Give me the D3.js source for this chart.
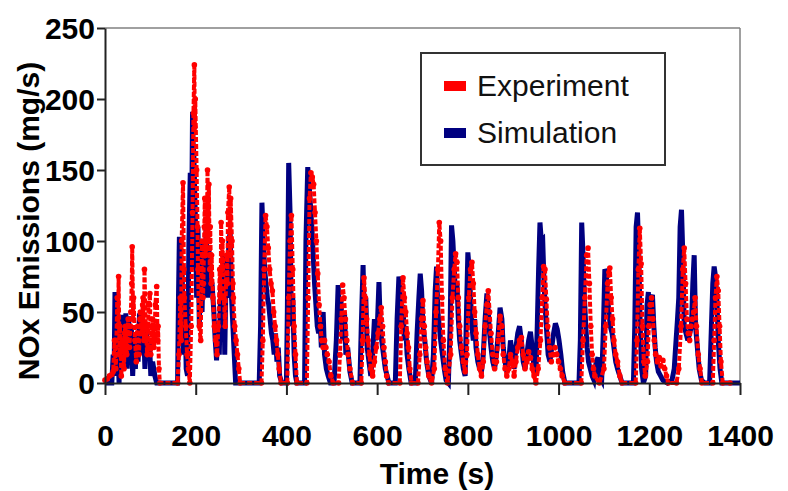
<!DOCTYPE html>
<html>
<head>
<meta charset="utf-8">
<script src="https://cdn.jsdelivr.net/npm/d3@7"></script>
<style>
  body { margin: 0; background: #fff; }
  svg { display: block; }
  .tick text { font-family: "Liberation Sans", Arial, sans-serif; font-weight: bold; font-size: 30px; fill: #000; }
</style>
</head>
<body>
<script>
// measured NOx emission traces, [time s, mg/s]
var experiment = [
  [0,2],[5,3],[10,5],[15,6],[18,8],[21,30],[24,10],[27,60],[29,40],[30,75],[32,20],[33,40],[36,5],[38,25],[39,30],[42,10],[43,35],[45,40],[48,20],
  [50,35],[51,45],[54,25],[56,40],[57,50],[59,70],[60,96],[62,45],[63,60],[66,30],[69,15],[71,35],[72,40],[75,20],[77,45],[78,50],[81,35],[83,55],[84,60],[86,30],[87,80],[90,40],
  [93,20],[95,40],[96,55],[99,63],[101,20],[102,30],[105,45],[107,35],[108,25],[110,40],[111,55],[114,68],[116,30],[117,40],[119,10],[121,0],[160,0],[163,20],
  [166,60],[168,30],[169,100],[172,141],[174,80],[175,60],[178,40],[181,20],[184,10],[187,0],[190,40],[193,120],[195,190],[197,224],[198,180],[199,200],
  [202,150],[204,110],[205,80],[208,40],[211,30],[213,80],[214,100],[216,60],[217,70],[219,110],[220,130],[222,90],[223,100],[225,120],[226,150],[228,100],[229,140],[231,80],[232,110],[234,70],[235,90],
  [238,60],[241,40],[244,30],[247,20],[250,40],[253,80],[255,60],[256,113],[258,80],[259,100],[262,60],[265,40],[268,90],[270,70],[271,120],
  [274,138],[276,90],[277,130],[280,100],[282,70],[283,60],[286,40],[289,30],[292,20],[295,10],[298,0],[345,0],[348,30],[351,80],
  [354,118],[357,110],[360,95],[363,80],[366,70],[369,65],[372,50],[375,40],[378,30],[381,20],[384,10],[388,0],
  [402,0],[405,60],[408,100],[411,118],[414,80],[417,40],[420,20],[423,0],[445,0],[448,60],[451,130],[454,148],
  [457,145],[460,140],[463,120],[466,100],[469,77],[472,55],[475,40],[478,30],[481,25],[484,30],[487,25],[490,20],
  [494,15],[498,5],[503,0],[515,0],[518,20],[521,45],[524,69],[527,60],[530,45],[533,30],[536,20],[540,10],[546,0],
  [565,0],[568,30],[571,74],[574,60],[577,45],[580,30],[583,20],[586,10],[590,5],[594,15],[598,25],[602,35],[606,45],
  [609,53],[612,40],[615,25],[618,15],[621,5],[625,0],[650,0],[653,40],[657,74],[660,60],[663,50],[666,35],[669,25],
  [672,10],[676,0],[690,0],[694,20],[698,45],[701,58],[704,40],[707,25],[710,15],[714,5],[720,0],[726,10],[730,50],
  [734,80],[737,113],[740,100],[743,60],[746,30],[750,10],[755,0],[762,20],[766,60],[770,80],[773,91],[776,85],
  [779,60],[782,40],[786,25],[790,15],[794,8],[798,20],[802,60],[806,80],[809,85],[812,70],[815,50],[818,35],
  [822,20],[826,10],[830,5],[834,15],[838,40],[842,55],[845,65],[848,50],[851,35],[855,20],[859,10],[863,15],
  [867,30],[871,47],[875,40],[878,20],[882,10],[886,5],[890,10],[894,20],[898,15],[902,5],[906,15],[910,25],
  [914,30],[918,32],[922,20],[926,10],[930,15],[934,22],[938,18],[942,10],[946,5],[950,0],[955,10],[960,30],
  [964,60],[967,82],[970,80],[973,59],[976,40],[980,25],[984,15],[988,20],[992,25],[996,20],[1000,15],[1004,10],
  [1008,5],[1014,0],[1050,0],[1054,30],[1058,60],[1062,90],[1065,95],[1068,70],[1071,40],[1074,20],[1077,10],
  [1080,5],[1090,0],[1100,10],[1104,40],[1108,70],[1111,78],[1113,81],[1116,60],[1119,45],[1122,30],[1126,20],
  [1130,15],[1135,5],[1140,0],[1170,0],[1173,30],[1176,80],[1179,109],[1182,84],[1185,40],[1188,15],[1191,5],
  [1196,15],[1199,40],[1202,55],[1205,60],[1208,45],[1211,30],[1214,20],[1218,15],[1222,18],[1226,12],[1230,16],
  [1234,10],[1238,5],[1242,0],[1260,0],[1265,10],[1270,40],[1274,80],[1277,95],[1280,70],[1283,45],[1286,35],
  [1289,30],[1292,40],[1295,45],[1298,50],[1301,60],[1304,40],[1308,20],[1312,10],[1316,0],[1340,0],[1343,30],
  [1346,60],[1349,75],[1352,65],[1355,40],[1358,15],[1362,0],[1378,0]
];

var simulation = [
  [0,0],[15,0],[18,20],[20,5],[22,64],[25,10],[28,30],[31,0],[34,45],[37,15],[40,48],[43,20],[46,49],[49,10],[52,47],
  [55,25],[58,40],[61,5],[64,30],[67,10],[70,35],[73,15],[76,48],[79,49],[82,20],[85,40],[88,10],[91,35],[95,20],
  [98,30],[101,5],[105,15],[110,5],[114,0],[160,0],[162,60],[164,103],[167,40],[170,80],[173,20],[176,60],[179,10],
  [182,5],[185,100],[188,148],[190,80],[192,150],[193,191],[194,170],[196,160],[199,120],[202,60],[205,110],[208,40],[211,90],[214,50],
  [217,100],[220,70],[223,110],[226,60],[229,95],[232,75],[236,70],[240,50],[243,30],[246,16],[249,40],[252,20],
  [255,70],[258,30],[261,90],[264,20],[267,80],[270,60],[273,100],[276,106],[279,60],[282,40],[285,20],[288,0],
  [340,0],[343,40],[346,127],[349,100],[352,80],[355,70],[358,60],[361,55],[364,45],[367,35],[370,30],[373,20],
  [376,35],[379,15],[382,25],[385,5],[390,0],[400,0],[402,50],[405,155],[408,120],[411,40],[414,60],[417,20],
  [420,5],[423,0],[440,0],[443,100],[447,152],[450,140],[453,125],[456,110],[459,90],[462,70],[465,55],[468,40],
  [471,35],[474,45],[477,25],[481,50],[484,20],[488,10],[492,5],[497,0],[505,0],[510,30],[514,69],[517,50],[520,60],
  [524,30],[528,50],[531,20],[535,25],[540,8],[545,0],[562,0],[565,40],[569,83],[572,40],[575,60],[578,25],[582,15],
  [586,5],[590,20],[594,45],[597,30],[601,45],[604,71],[607,40],[610,30],[614,20],[618,10],[622,5],[626,0],[640,0],
  [644,45],[648,75],[651,60],[654,40],[657,55],[660,30],[663,40],[666,20],[670,10],[675,0],[684,0],[688,35],[692,60],
  [695,77],[698,65],[701,40],[705,30],[709,15],[714,5],[720,0],[724,20],[728,65],[731,82],[734,50],[737,40],[740,30],
  [744,20],[748,10],[752,2],[757,0],[761,40],[764,111],[767,100],[770,80],[773,60],[776,70],[779,45],[782,30],
  [786,20],[790,10],[794,5],[797,50],[800,92],[803,80],[806,60],[809,40],[812,30],[815,45],[818,25],[822,15],
  [826,10],[830,8],[834,20],[838,45],[842,63],[845,50],[848,35],[851,25],[855,15],[859,10],[863,20],[867,35],
  [871,53],[875,45],[878,25],[882,15],[886,8],[890,15],[894,30],[898,20],[902,10],[906,25],[910,35],[914,40],
  [918,30],[922,15],[926,10],[930,20],[934,30],[938,36],[942,25],[946,10],[950,5],[953,40],[956,80],[959,113],
  [962,100],[965,101],[968,70],[971,50],[974,35],[977,20],[981,15],[985,25],[989,35],[993,42],[997,38],[1001,30],
  [1005,20],[1009,8],[1014,0],[1045,0],[1048,30],[1051,113],[1054,90],[1057,60],[1060,40],[1063,25],[1066,15],
  [1070,10],[1074,5],[1078,2],[1083,15],[1087,18],[1090,5],[1095,2],[1099,40],[1102,80],[1105,78],[1108,60],
  [1111,50],[1114,40],[1118,35],[1122,25],[1126,15],[1130,10],[1135,5],[1140,0],[1165,0],[1168,40],[1171,110],
  [1174,120],[1177,90],[1180,40],[1183,10],[1187,0],[1192,5],[1195,55],[1198,64],[1201,40],[1204,60],[1207,62],
  [1210,40],[1213,25],[1216,15],[1220,8],[1225,5],[1230,2],[1240,0],[1250,2],[1255,10],[1258,25],[1262,44],
  [1265,60],[1268,110],[1271,122],[1274,90],[1277,40],[1281,35],[1285,30],[1289,35],[1293,40],[1296,70],[1299,90],
  [1302,40],[1306,25],[1310,10],[1315,2],[1322,0],[1333,0],[1337,40],[1340,70],[1343,82],[1346,75],[1349,60],
  [1352,30],[1356,10],[1360,0],[1400,0]
];

var xTicks = [0, 200, 400, 600, 800, 1000, 1200, 1400];
var yTicks = [0, 50, 100, 150, 200, 250];
var legendLabels = ["Experiment", "Simulation"];
var seriesColors = ["#ff0000", "#000080"];

(function () {
var W = 788, H = 491;
var plotL = 105, plotR = 740, plotT = 28, plotB = 383;

var svg = d3.select("body").append("svg")
  .attr("width", W)
  .attr("height", H);

var x = d3.scaleLinear().domain([0, 1400]).range([plotL, plotR]);
var y = d3.scaleLinear().domain([0, 250]).range([plotB, plotT]);

// grey frame on top and right
svg.append("line")
  .attr("x1", plotL).attr("x2", plotR).attr("y1", plotT).attr("y2", plotT)
  .attr("stroke", "#808080").attr("stroke-width", 1.5);
svg.append("line")
  .attr("x1", plotR).attr("x2", plotR).attr("y1", plotT).attr("y2", plotB)
  .attr("stroke", "#808080").attr("stroke-width", 1.5);

var line = d3.line()
  .x(function(d){ return x(d[0]); })
  .y(function(d){ return y(d[1]); });

// simulation (drawn underneath)
svg.append("path")
  .datum(simulation)
  .attr("fill", "none")
  .attr("stroke", seriesColors[1])
  .attr("stroke-width", 5)
  .attr("stroke-linejoin", "miter")
  .attr("d", line);

// experiment: thick red line with round dots
svg.append("path")
  .datum(experiment)
  .attr("fill", "none")
  .attr("stroke", seriesColors[0])
  .attr("stroke-width", 4)
  .attr("stroke-dasharray", "5,2")
  .attr("stroke-linejoin", "round")
  .attr("d", line);

svg.append("g")
  .selectAll("circle")
  .data(experiment)
  .join("circle")
  .attr("cx", function(d){ return x(d[0]); })
  .attr("cy", function(d){ return y(d[1]); })
  .attr("r", 2.8)
  .attr("fill", seriesColors[0]);

// axes
var yAxis = svg.append("g")
  .attr("transform", `translate(${plotL},0)`)
  .call(d3.axisLeft(y).tickValues(yTicks).tickFormat(d3.format("d")).tickSize(8).tickSizeOuter(0).tickPadding(2));
var xAxis = svg.append("g")
  .attr("transform", `translate(0,${plotB})`)
  .call(d3.axisBottom(x).tickValues(xTicks).tickFormat(d3.format("d")).tickSize(12).tickSizeOuter(0).tickPadding(30));

[xAxis, yAxis].forEach(function(a){
  a.select(".domain").attr("stroke", "#222").attr("stroke-width", 2);
  a.selectAll(".tick line").attr("stroke", "#222").attr("stroke-width", 2);
});
yAxis.selectAll(".tick text").attr("dy", "0.36em");

// axis titles
svg.append("text")
  .attr("transform", "translate(39,221) rotate(-90)")
  .attr("text-anchor", "middle")
  .attr("font-family", "Liberation Sans, Arial, sans-serif")
  .attr("font-weight", "bold")
  .attr("font-size", 30)
  .text("NOx Emissions (mg/s)");

svg.append("text")
  .attr("x", 437)
  .attr("y", 484)
  .attr("text-anchor", "middle")
  .attr("font-family", "Liberation Sans, Arial, sans-serif")
  .attr("font-weight", "bold")
  .attr("font-size", 30)
  .text("Time (s)");

// legend
var lg = svg.append("g");
lg.append("rect")
  .attr("x", 421).attr("y", 53).attr("width", 244).attr("height", 112)
  .attr("fill", "#fff").attr("stroke", "#333").attr("stroke-width", 2);
legendLabels.forEach(function(lbl, i){
  var yy = 86 + i * 47;
  lg.append("rect")
    .attr("x", 444).attr("y", yy - 5).attr("width", 22).attr("height", 10)
    .attr("fill", seriesColors[i]);
  lg.append("text")
    .attr("x", 477).attr("y", yy + 10)
    .attr("font-family", "Liberation Sans, Arial, sans-serif")
    .attr("font-size", 30)
    .attr("fill", "#111")
    .text(lbl);
});
})();
</script>
</body>
</html>
